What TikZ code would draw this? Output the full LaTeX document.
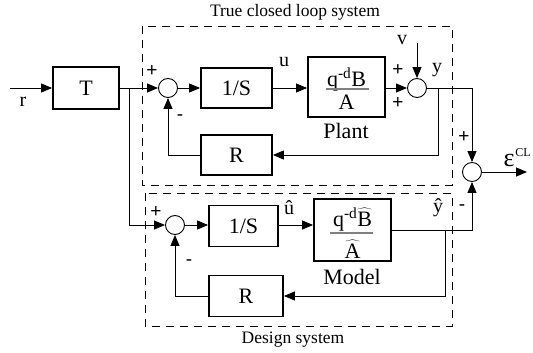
\documentclass[tikz,border=0pt]{standalone}
\usepackage{fontspec}
\setmainfont{Liberation Serif}
\newfontfamily\signfont{Liberation Sans}
\usetikzlibrary{arrows.meta}
\tikzset{
 blk/.style={draw, line width=1.8pt, inner sep=0pt, font=\fontsize{22}{24}\selectfont},
 sumnode/.style={draw, circle, line width=0.9pt, minimum size=19pt, inner sep=0pt},
 sig/.style={line width=0.9pt, -{Triangle[length=11pt,width=9pt]}},
 lbl/.style={font=\fontsize{20}{22}\selectfont, inner sep=0pt},
 big/.style={font=\fontsize{22}{24}\selectfont, inner sep=0pt},
 sgn/.style={font=\signfont\fontsize{19}{20}\selectfont, inner sep=0pt},
 dbox/.style={draw, dash pattern=on 8pt off 6pt, line width=0.9pt},
 ttl/.style={font=\fontsize{17.5}{20}\selectfont, inner sep=0pt},
 fracline/.style={draw=gray, line width=1.2pt}
}
\begin{document}
\begin{tikzpicture}[x=1pt,y=-1pt]
\useasboundingbox (0,0) rectangle (533,353);
% frames
\draw[dbox] (142,26) rectangle (452,185);
\draw[dbox] (145,193) rectangle (452,326);
\node[ttl] (t1) at (295,12) {True closed loop system};
\node[ttl] (t2) at (293,340) {Design system};
% upper loop
\coordinate (in) at (10,88);
\node[blk, minimum width=66pt, minimum height=42pt] (T) at (86,88) {T};
\node[sumnode] (s1) at (168,88) {};
\node[blk, minimum width=71pt, minimum height=40pt] (I1) at (236.5,88) {1/S};
\node[blk, minimum width=77pt, minimum height=60pt] (P) at (346.5,87) {};
\node[big, anchor=base, text depth=1pt] (pn) at (346.5,86) {q\textsuperscript{-d}B};
\draw[fracline] (326,89) -- (369,89);
\node[big, anchor=base] (pd) at (346.5,110) {A};
\node[big] (plab) at (346,131) {Plant};
\node[sumnode] (s2) at (417,88) {};
\node[blk, minimum width=71pt, minimum height=40pt] (R1) at (236.5,155) {R};
\node[sumnode] (s3) at (472,172) {};
\coordinate (eps) at (527,172);
% lower loop
\node[sumnode] (s4) at (175,225) {};
\node[blk, minimum width=69pt, minimum height=41pt] (I2) at (243.5,226) {1/S};
\node[blk, minimum width=77pt, minimum height=62pt] (M) at (352.5,230) {};
\node[big, anchor=base, text depth=1pt] (mn) at (352.5,226) {q\textsuperscript{-d}$\widehat{\hbox{B}}$};
\draw[fracline] (330,233) -- (373,233);
\node[big, anchor=base, text height=16pt] (md) at (352.5,258) {$\widehat{\hbox{A}}$};
\node[big] (mlab) at (352,277) {Model};
\node[blk, minimum width=74pt, minimum height=41pt] (R2) at (246,296) {R};
% connectors upper
\draw[sig] (in) -- (T);
\draw[sig] (T) -- (s1);
\coordinate (b1) at (129,88);
\draw[sig] (b1) |- (s4);
\draw[sig] (s1) -- (I1);
\draw[sig] (I1) -- (I1 -| P.west);
\draw[sig] (P.east |- s2) -- (s2);
\coordinate (vin) at (417,43);
\draw[sig] (vin) -- (s2);
\coordinate (c1) at (472,88);
\draw[sig] (s2) -- (c1) -- (s3);
\coordinate (b2) at (438,88);
\draw[sig] (b2) |- (R1);
\draw[sig] (R1) -| (s1);
\draw[sig] (s3) -- (eps);
% connectors lower
\draw[sig] (s4) -- (s4 -| I2.west);
\draw[sig] (I2.east |- s4) -- (s4 -| M.west);
\coordinate (c2) at (472,230);
\draw[sig] (M) -- (c2) -- (s3);
\coordinate (b3) at (445,230);
\draw[sig] (b3) |- (R2);
\draw[sig] (R2) -| (s4);
% labels
\node[lbl] (rl) at (23,102) {r};
\node[lbl] (ul) at (284,62) {u};
\node[lbl] (vl) at (402,40) {v};
\node[lbl] (yl) at (437,70) {y};
\node[lbl] (uh) at (289,208) {û};
\node[lbl] (yh) at (438,208) {ŷ};
\node[inner sep=0pt, font=\fontsize{26}{28}\selectfont] (ep) at (509,161) {ε};
\node[inner sep=0pt, font=\fontsize{12}{14}\selectfont] (cl) at (523,153) {CL};
\node[sgn] (p1) at (152,71) {+};
\node[sgn] (m1) at (180,118) {-};
\node[sgn] (p2) at (398,70) {+};
\node[sgn] (p3) at (398,103) {+};
\node[sgn] (p4) at (464,137) {+};
\node[sgn] (p5) at (156,212) {+};
\node[sgn] (m2) at (189,263) {-};
\node[sgn] (m3) at (462,208) {-};
\end{tikzpicture}
\end{document}
